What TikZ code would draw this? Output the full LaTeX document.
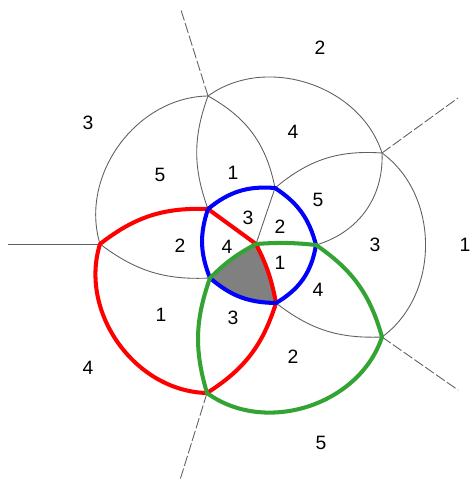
\documentclass[tikz,border=0pt]{standalone}
\usepackage{fontspec}
\setmainfont{Liberation Sans}
\begin{document}
\begin{tikzpicture}[
        x=0.02cm, y=-0.02cm,
        thin_arc/.style={gray!75!black, line width=0.5pt},
        ray_line/.style={gray!75!black, line width=0.5pt, dash pattern=on 6pt off 1.5pt},
        red_loop/.style={red, line width=2.3pt, line join=round},
        blue_loop/.style={blue, line width=2.3pt, line join=round},
        green_loop/.style={green!55!black!80, line width=2.3pt, line join=round},
        regionnum/.style={font=\fontsize{11}{13}\selectfont, inner sep=0pt}
    ]
    \useasboundingbox (0,0) rectangle (469,482);

    % Vnější vrcholy (x, y v pixelech)
    \coordinate (A) at (208, 96);
    \coordinate (B) at (382, 153);
    \coordinate (C) at (100, 244);
    \coordinate (D) at (382, 337);
    \coordinate (E) at (207, 393);

    % Vnitřní vrcholy a střed
    \coordinate (F) at (208, 209);
    \coordinate (G) at (275, 188);
    \coordinate (H) at (316, 245);
    \coordinate (I) at (276, 303);
    \coordinate (J) at (210, 278);
    \coordinate (K) at (256, 244);

    % Konce polopřímek
    \coordinate (a1) at (181, 10);
    \coordinate (b1) at (458, 98);
    \coordinate (c1) at (8, 244);
    \coordinate (d1) at (458, 390);
    \coordinate (e1) at (180, 480);

    % Šedý trojúhelník uprostřed
    \fill[gray] (K) to[bend right=8] (J) to[bend right=20] (I) to[bend right=8] (K);

    % Tenké oblouky kružnic
    \draw[thin_arc] (A) to[bend right=53] (C);
    \draw[thin_arc] (A) to[bend left=54] (B);
    \draw[thin_arc] (B) to[bend left=54] (D);
    \draw[thin_arc] (A) to[bend right=20] (F);
    \draw[thin_arc] (A) to[bend left=25] (G);
    \draw[thin_arc] (G) to[bend left=22] (B);
    \draw[thin_arc] (B) to[bend left=38] (H);
    \draw[thin_arc] (G) -- (K);
    \draw[thin_arc] (C) to[bend right=20] (J);
    \draw[thin_arc] (I) to[bend right=20] (D);

    % Polopřímky ven z obrázku
    \draw[ray_line] (A) -- (a1);
    \draw[ray_line] (B) -- (b1);
    \draw[thin_arc] (C) -- (c1);
    \draw[ray_line] (D) -- (d1);
    \draw[ray_line] (E) -- (e1);

    % Barevné smyčky (červená, modrá, zelená)
    \draw[red_loop] (F) to[bend right=20] (C) to[bend right=53] (E)
        to[bend right=20] (I) to[bend right=8] (K) -- cycle;
    \draw[blue_loop] (F) to[bend left=22] (G) to[bend left=21] (H)
        to[bend left=25] (I) to[bend left=20] (J) to[bend left=20] (F);
    \draw[green_loop] (K) to[bend left=5] (H) to[bend left=20] (D)
        to[bend left=54] (E) to[bend left=18] (J) to[bend left=8] (K);

    % Čísla oblastí
    \node[regionnum] (top2) at (320, 48) {2};
    \node[regionnum] (tl3) at (88, 123) {3};
    \node[regionnum] (up4) at (293, 132) {4};
    \node[regionnum] (left5) at (160, 175) {5};
    \node[regionnum] (mid1) at (233, 173) {1};
    \node[regionnum] (right5) at (318, 200) {5};
    \node[regionnum] (blue3) at (248, 218) {3};
    \node[regionnum] (blue2) at (280, 227) {2};
    \node[regionnum] (red2) at (180, 246) {2};
    \node[regionnum] (blue4) at (227, 247) {4};
    \node[regionnum] (blue1) at (280, 263) {1};
    \node[regionnum] (right3) at (375, 245) {3};
    \node[regionnum] (far1) at (465, 245) {1};
    \node[regionnum] (red1) at (161, 315) {1};
    \node[regionnum] (low3) at (233, 318) {3};
    \node[regionnum] (green4) at (318, 290) {4};
    \node[regionnum] (green2) at (293, 357) {2};
    \node[regionnum] (bl4) at (88, 368) {4};
    \node[regionnum] (bot5) at (321, 443) {5};

\end{tikzpicture}
\end{document}
